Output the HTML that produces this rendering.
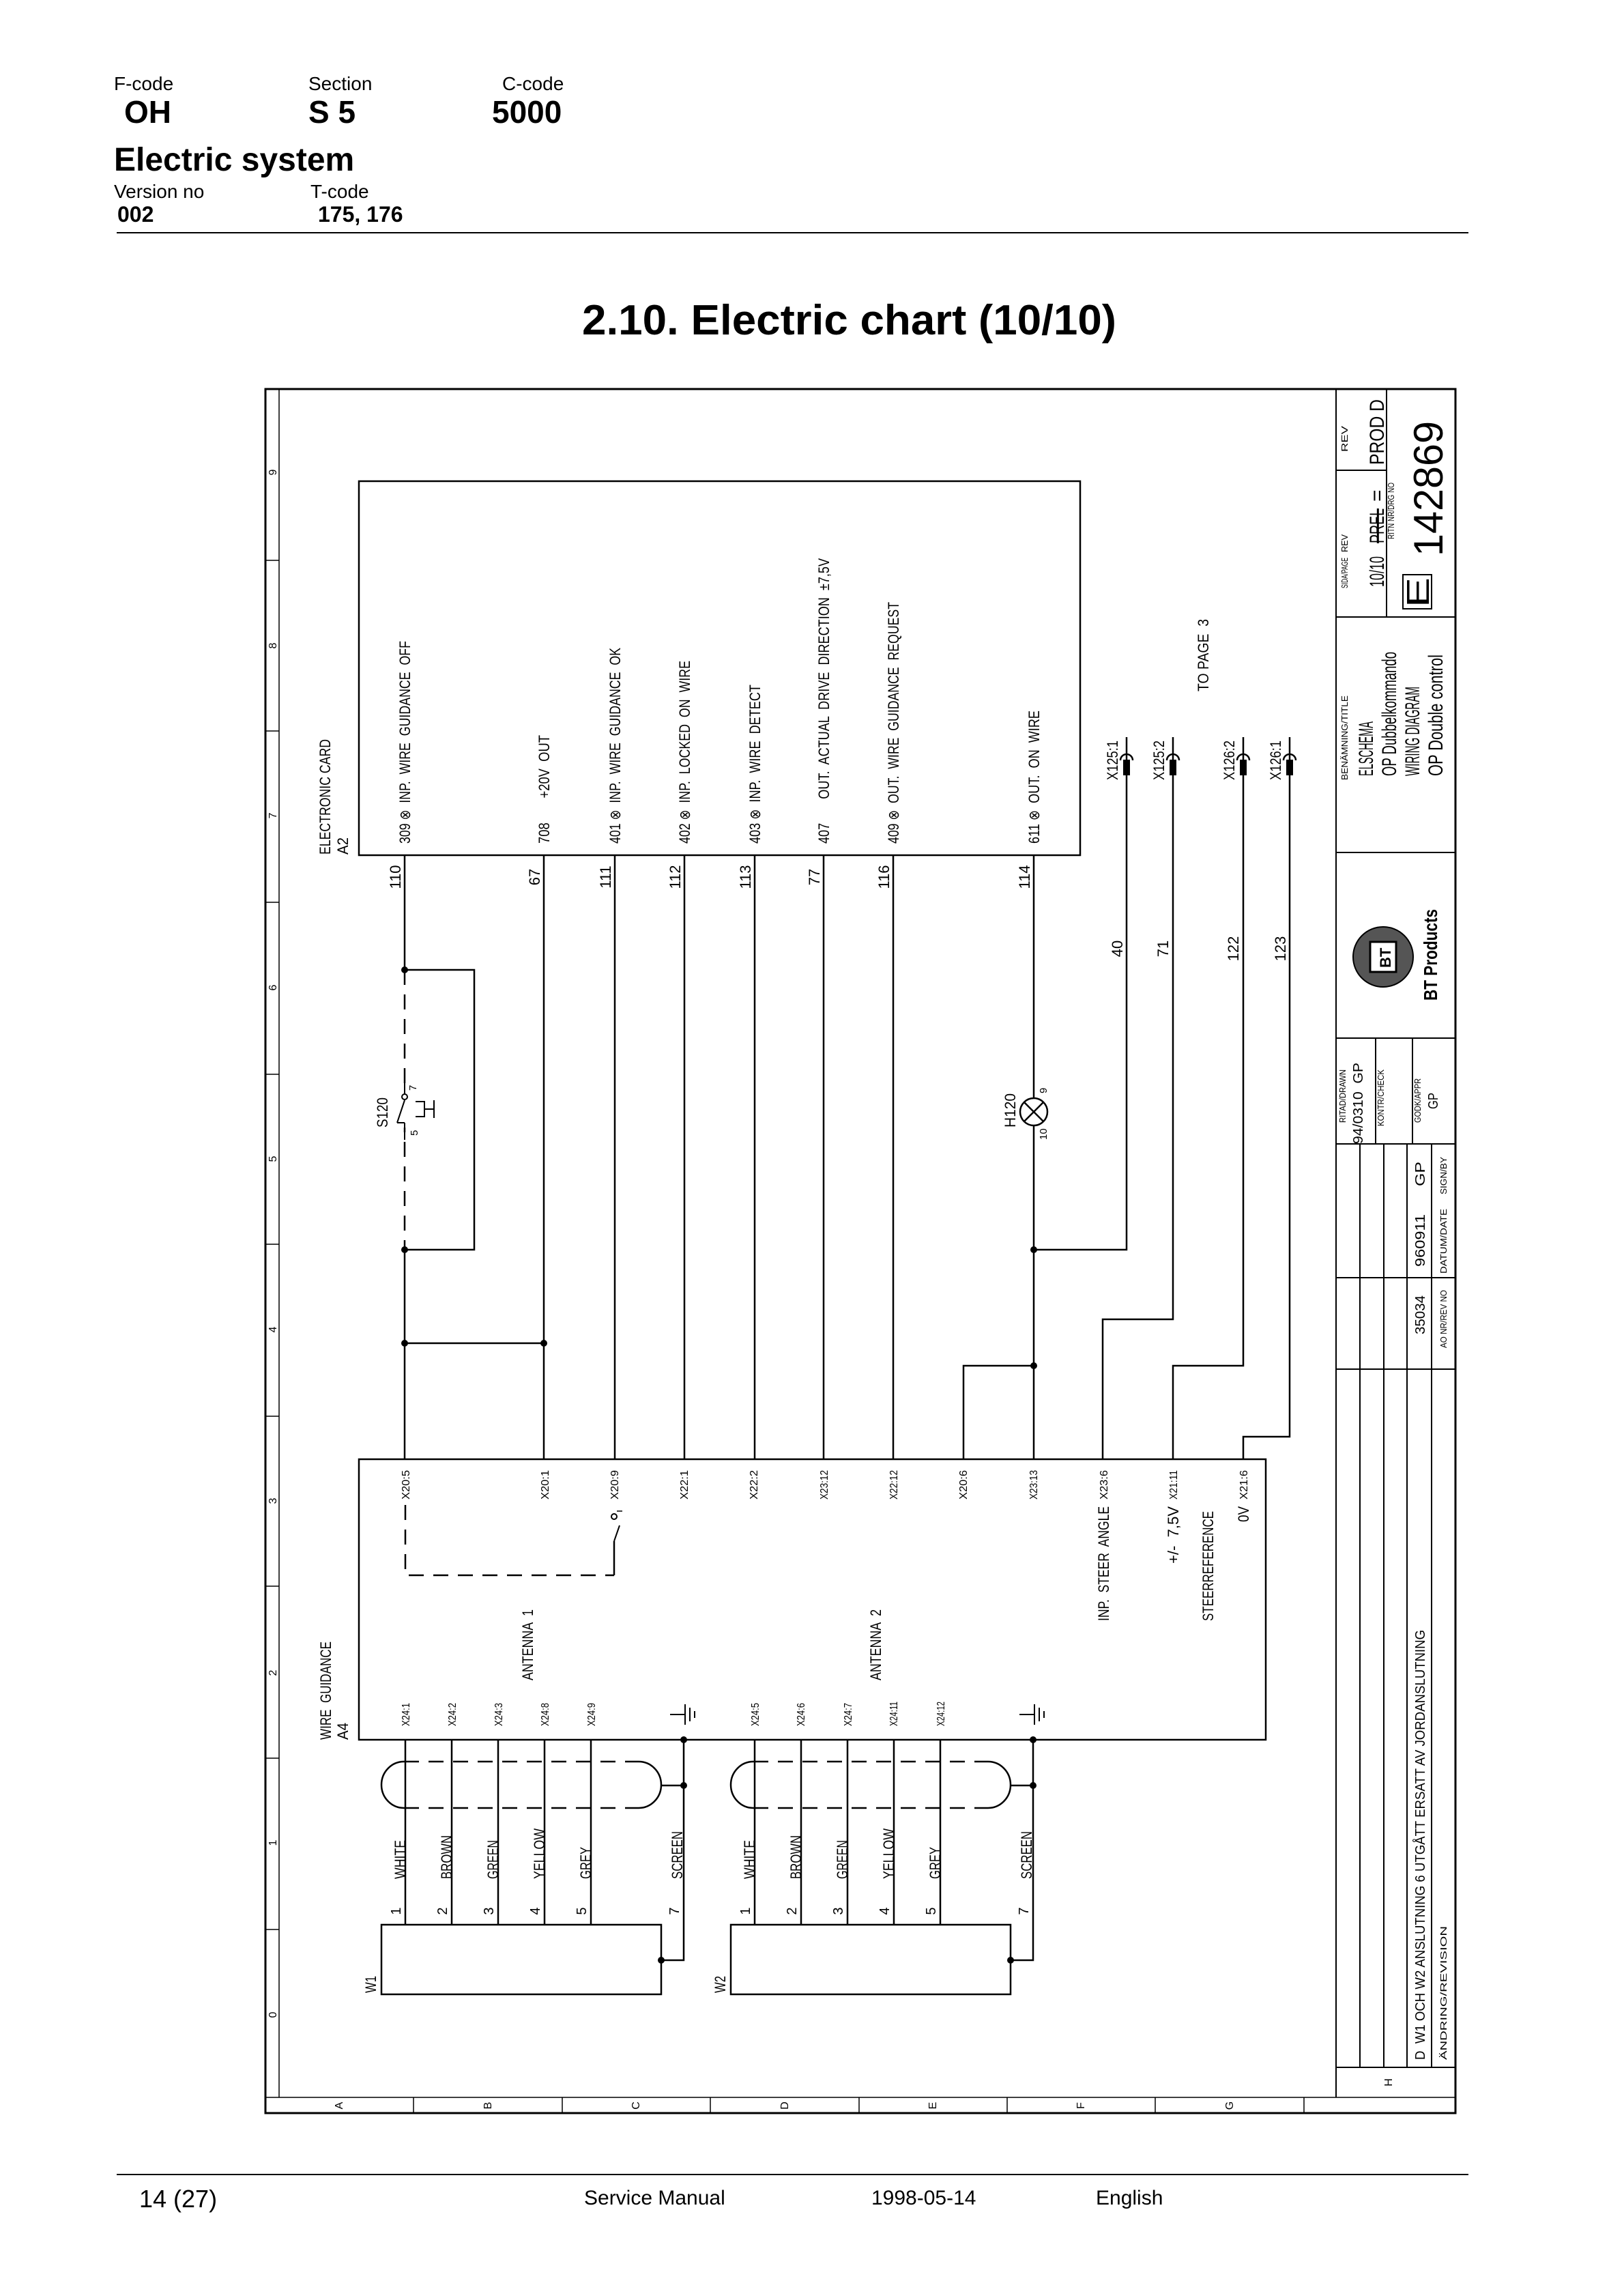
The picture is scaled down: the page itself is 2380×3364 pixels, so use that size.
<!DOCTYPE html>
<html><head><meta charset="utf-8"><style>
html,body{margin:0;padding:0;background:#fff}
svg{display:block}
text{font-family:"Liberation Sans",sans-serif;fill:#000;white-space:pre}
.w{stroke:#000;stroke-width:2.5;fill:none}
.d{stroke:#000;stroke-width:2.5;fill:none;stroke-dasharray:22 14}
.f{stroke:#000;stroke-width:3;fill:none}
.th{stroke:#000;stroke-width:1.5;fill:none}
</style></head><body>
<svg width="2380" height="3364" viewBox="0 0 2380 3364" xmlns="http://www.w3.org/2000/svg">
<!-- Header -->
<text x="167" y="132" font-size="28">F-code</text>
<text x="452" y="132" font-size="28">Section</text>
<text x="736" y="132" font-size="28">C-code</text>
<text x="182" y="180" font-size="46" font-weight="bold">OH</text>
<text x="452" y="180" font-size="46" font-weight="bold">S 5</text>
<text x="721" y="180" font-size="46" font-weight="bold">5000</text>
<text x="167" y="250" font-size="48" font-weight="bold">Electric system</text>
<text x="167" y="290" font-size="28">Version no</text>
<text x="455" y="290" font-size="28">T-code</text>
<text x="172" y="325" font-size="32" font-weight="bold">002</text>
<text x="466" y="325" font-size="32" font-weight="bold">175, 176</text>
<line x1="171" y1="341" x2="2152" y2="341" stroke="#000" stroke-width="2"/>
<text x="853" y="490" font-size="62" font-weight="bold" textLength="783" lengthAdjust="spacingAndGlyphs">2.10. Electric chart (10/10)</text>

<!-- Footer -->
<line x1="171" y1="3186" x2="2152" y2="3186" stroke="#000" stroke-width="2"/>
<text x="204" y="3234" font-size="36">14 (27)</text>
<text x="856" y="3230" font-size="30">Service Manual</text>
<text x="1277" y="3230" font-size="30">1998-05-14</text>
<text x="1606" y="3230" font-size="30">English</text>

<!-- Frame -->
<rect x="389" y="570" width="1744" height="2526" class="f"/>
<line x1="409" y1="570" x2="409" y2="3073" class="th"/>
<line x1="389" y1="3073" x2="2133" y2="3073" class="th"/>
<g class="th">
<line x1="389" y1="821" x2="409" y2="821"/><line x1="389" y1="1071" x2="409" y2="1071"/>
<line x1="389" y1="1322" x2="409" y2="1322"/><line x1="389" y1="1574" x2="409" y2="1574"/>
<line x1="389" y1="1823" x2="409" y2="1823"/><line x1="389" y1="2075" x2="409" y2="2075"/>
<line x1="389" y1="2324" x2="409" y2="2324"/><line x1="389" y1="2576" x2="409" y2="2576"/>
<line x1="389" y1="2827" x2="409" y2="2827"/>
<line x1="606" y1="3073" x2="606" y2="3096"/><line x1="824" y1="3073" x2="824" y2="3096"/>
<line x1="1041" y1="3073" x2="1041" y2="3096"/><line x1="1259" y1="3073" x2="1259" y2="3096"/>
<line x1="1476" y1="3073" x2="1476" y2="3096"/><line x1="1693" y1="3073" x2="1693" y2="3096"/>
<line x1="1911" y1="3073" x2="1911" y2="3096"/>
</g>
<g font-size="16" text-anchor="middle">
<text transform="translate(405,692) rotate(-90)">9</text>
<text transform="translate(405,946) rotate(-90)">8</text>
<text transform="translate(405,1195) rotate(-90)">7</text>
<text transform="translate(405,1447) rotate(-90)">6</text>
<text transform="translate(405,1698) rotate(-90)">5</text>
<text transform="translate(405,1948) rotate(-90)">4</text>
<text transform="translate(405,2199) rotate(-90)">3</text>
<text transform="translate(405,2451) rotate(-90)">2</text>
<text transform="translate(405,2700) rotate(-90)">1</text>
<text transform="translate(405,2952) rotate(-90)">0</text>
<text transform="translate(502,3085) rotate(-90)">A</text>
<text transform="translate(720,3085) rotate(-90)">B</text>
<text transform="translate(937,3085) rotate(-90)">C</text>
<text transform="translate(1155,3085) rotate(-90)">D</text>
<text transform="translate(1372,3085) rotate(-90)">E</text>
<text transform="translate(1589,3085) rotate(-90)">F</text>
<text transform="translate(1807,3085) rotate(-90)">G</text>
<text transform="translate(2040,3051) rotate(-90)">H</text>
</g>

<!-- Title block -->
<g class="th" style="stroke-width:2">
<line x1="1958" y1="570" x2="1958" y2="3073"/>
<line x1="2032" y1="570" x2="2032" y2="904"/>
<line x1="1958" y1="689" x2="2032" y2="689"/>
<line x1="1958" y1="904" x2="2133" y2="904"/>
<line x1="1958" y1="1249" x2="2133" y2="1249"/>
<line x1="1958" y1="1521" x2="2133" y2="1521"/>
<line x1="2016" y1="1521" x2="2016" y2="1676"/>
<line x1="2070" y1="1521" x2="2070" y2="1676"/>
<line x1="1958" y1="1676" x2="2133" y2="1676"/>
<line x1="1958" y1="1872" x2="2133" y2="1872"/>
<line x1="1958" y1="2006" x2="2133" y2="2006"/>
<line x1="1993" y1="1676" x2="1993" y2="3029"/>
<line x1="2028" y1="1676" x2="2028" y2="3029"/>
<line x1="2062" y1="1676" x2="2062" y2="3029"/>
<line x1="2098" y1="1676" x2="2098" y2="3029"/>
<line x1="1958" y1="3029" x2="2133" y2="3029"/>
<rect x="2056" y="842" width="42" height="50"/>
</g>
<g font-size="13">
<text transform="translate(1975,662) rotate(-90)" textLength="38" lengthAdjust="spacingAndGlyphs">REV</text>
<text transform="translate(1975,809) rotate(-90)" textLength="26" lengthAdjust="spacingAndGlyphs">REV</text>
<text transform="translate(1975,862) rotate(-90)" textLength="45" lengthAdjust="spacingAndGlyphs">SIDA/PAGE</text>
<text transform="translate(2043,790) rotate(-90)" textLength="83" lengthAdjust="spacingAndGlyphs">RITN NR/DRG NO</text>
<text transform="translate(1975,1143) rotate(-90)" textLength="124" lengthAdjust="spacingAndGlyphs">BENÄMNING/TITLE</text>
<text transform="translate(1972,1645) rotate(-90)" textLength="78" lengthAdjust="spacingAndGlyphs">RITAD/DRAWN</text>
<text transform="translate(2028,1650) rotate(-90)" textLength="83" lengthAdjust="spacingAndGlyphs">KONTR/CHECK</text>
<text transform="translate(2082,1645) rotate(-90)" textLength="65" lengthAdjust="spacingAndGlyphs">GODK/APPR</text>
<text transform="translate(2120,1750) rotate(-90)" textLength="55" lengthAdjust="spacingAndGlyphs">SIGN/BY</text>
<text transform="translate(2120,1866) rotate(-90)" textLength="95" lengthAdjust="spacingAndGlyphs">DATUM/DATE</text>
<text transform="translate(2120,1975) rotate(-90)" textLength="85" lengthAdjust="spacingAndGlyphs">AO NR/REV NO</text>
<text transform="translate(2120,3018) rotate(-90)" textLength="196" lengthAdjust="spacingAndGlyphs">ÄNDRING/REVISION</text>
</g>
<g font-size="30">
<text transform="translate(2028,681) rotate(-90)" textLength="96" lengthAdjust="spacingAndGlyphs">PROD D</text>
<text transform="translate(2028,860) rotate(-90)" textLength="45" lengthAdjust="spacingAndGlyphs">10/10</text>
<text transform="translate(2028,796) rotate(-90)" textLength="51" lengthAdjust="spacingAndGlyphs" text-decoration="line-through">PREL</text>
<text transform="translate(2028,735) rotate(-90)">=</text>
<text transform="translate(2012,1137) rotate(-90)" textLength="80" lengthAdjust="spacingAndGlyphs">ELSCHEMA</text>
<text transform="translate(2046,1137) rotate(-90)" textLength="182" lengthAdjust="spacingAndGlyphs">OP Dubbelkommando</text>
<text transform="translate(2080,1137) rotate(-90)" textLength="131" lengthAdjust="spacingAndGlyphs">WIRING DIAGRAM</text>
<text transform="translate(2114,1137) rotate(-90)" textLength="178" lengthAdjust="spacingAndGlyphs">OP Double control</text>
</g>
<text transform="translate(2114,815) rotate(-90)" font-size="60" textLength="198" lengthAdjust="spacingAndGlyphs">142869</text>
<text transform="translate(2094,890) rotate(-90)" font-size="46" textLength="44" lengthAdjust="spacingAndGlyphs">E</text>
<g font-size="20">
<text transform="translate(1997,1676) rotate(-90)" textLength="119" lengthAdjust="spacingAndGlyphs">94/0310  GP</text>
<text transform="translate(2107,1625) rotate(-90)" textLength="24" lengthAdjust="spacingAndGlyphs">GP</text>
<text transform="translate(2088,1738) rotate(-90)" textLength="36" lengthAdjust="spacingAndGlyphs">GP</text>
<text transform="translate(2088,1856) rotate(-90)" textLength="77" lengthAdjust="spacingAndGlyphs">960911</text>
<text transform="translate(2088,1955) rotate(-90)" textLength="57" lengthAdjust="spacingAndGlyphs">35034</text>
<text transform="translate(2088,3018) rotate(-90)" textLength="630" lengthAdjust="spacingAndGlyphs">D  W1 OCH W2 ANSLUTNING 6 UTGÅTT ERSATT AV JORDANSLUTNING</text>
</g>
<!-- logo -->
<circle cx="2027" cy="1402" r="44" fill="#555" stroke="#000" stroke-width="2"/>
<rect x="2008" y="1380" width="38" height="44" fill="#fff" stroke="#000" stroke-width="3"/>
<text transform="translate(2038,1418) rotate(-90)" font-size="22" font-weight="bold">BT</text>
<text transform="translate(2106,1466) rotate(-90)" font-size="28" font-weight="bold" textLength="134" lengthAdjust="spacingAndGlyphs">BT Products</text>

<!-- Electronic card -->
<rect x="526" y="705" width="1057" height="548" class="w"/>
<g font-size="22">
<text transform="translate(484,1252) rotate(-90)" textLength="169" lengthAdjust="spacingAndGlyphs">ELECTRONIC CARD</text>
<text transform="translate(510,1252) rotate(-90)" textLength="25" lengthAdjust="spacingAndGlyphs">A2</text>
<text transform="translate(601,1236) rotate(-90)" textLength="297" lengthAdjust="spacingAndGlyphs">309 ⊗  INP.  WIRE  GUIDANCE  OFF</text>
<text transform="translate(805,1236) rotate(-90)" textLength="159" lengthAdjust="spacingAndGlyphs">708       +20V  OUT</text>
<text transform="translate(909,1236) rotate(-90)" textLength="287" lengthAdjust="spacingAndGlyphs">401 ⊗  INP.  WIRE  GUIDANCE  OK</text>
<text transform="translate(1011,1236) rotate(-90)" textLength="268" lengthAdjust="spacingAndGlyphs">402 ⊗  INP.  LOCKED  ON  WIRE</text>
<text transform="translate(1114,1236) rotate(-90)" textLength="233" lengthAdjust="spacingAndGlyphs">403 ⊗  INP.  WIRE  DETECT</text>
<text transform="translate(1215,1236) rotate(-90)" textLength="418" lengthAdjust="spacingAndGlyphs">407       OUT.  ACTUAL  DRIVE  DIRECTION  ±7,5V</text>
<text transform="translate(1317,1236) rotate(-90)" textLength="354" lengthAdjust="spacingAndGlyphs">409 ⊗  OUT.  WIRE  GUIDANCE  REQUEST</text>
<text transform="translate(1523,1236) rotate(-90)" textLength="195" lengthAdjust="spacingAndGlyphs">611 ⊗  OUT.  ON  WIRE</text>
</g>
<g font-size="22" text-anchor="middle">
<text transform="translate(587,1285) rotate(-90)">110</text>
<text transform="translate(791,1285) rotate(-90)">67</text>
<text transform="translate(895,1285) rotate(-90)">111</text>
<text transform="translate(997,1285) rotate(-90)">112</text>
<text transform="translate(1100,1285) rotate(-90)">113</text>
<text transform="translate(1201,1285) rotate(-90)">77</text>
<text transform="translate(1303,1285) rotate(-90)">116</text>
<text transform="translate(1509,1285) rotate(-90)">114</text>
<text transform="translate(1645,1390) rotate(-90)">40</text>
<text transform="translate(1712,1390) rotate(-90)">71</text>
<text transform="translate(1815,1390) rotate(-90)">122</text>
<text transform="translate(1884,1390) rotate(-90)">123</text>
</g>

<!-- Wires between -->
<g class="w">
<line x1="593" y1="1253" x2="593" y2="1421"/>
<line x1="593" y1="1831" x2="593" y2="2138"/>
<polyline points="593,1421 695,1421 695,1831 593,1831"/>
<line x1="593" y1="1968" x2="797" y2="1968"/>
<line x1="797" y1="1253" x2="797" y2="2138"/>
<line x1="901" y1="1253" x2="901" y2="2138"/>
<line x1="1003" y1="1253" x2="1003" y2="2138"/>
<line x1="1106" y1="1253" x2="1106" y2="2138"/>
<line x1="1207" y1="1253" x2="1207" y2="2138"/>
<line x1="1309" y1="1253" x2="1309" y2="2138"/>
<line x1="1515" y1="1253" x2="1515" y2="1609"/>
<line x1="1515" y1="1649" x2="1515" y2="2138"/>
<polyline points="1651,1080 1651,1831 1515,1831"/>
<polyline points="1719,1080 1719,1933 1616,1933 1616,2138"/>
<polyline points="1822,1080 1822,2001 1719,2001 1719,2138"/>
<polyline points="1890,1080 1890,2105 1822,2105 1822,2138"/>
<polyline points="1412,2138 1412,2001 1515,2001"/>
<circle cx="1515" cy="1629" r="20"/>
<line x1="1501" y1="1615" x2="1529" y2="1643"/><line x1="1529" y1="1615" x2="1501" y2="1643"/>
</g>
<line x1="593" y1="1421" x2="593" y2="1831" class="d"/>
<g fill="#000">
<circle cx="593" cy="1421" r="5"/><circle cx="593" cy="1831" r="5"/>
<circle cx="593" cy="1968" r="5"/><circle cx="797" cy="1968" r="5"/>
<circle cx="1515" cy="1831" r="5"/><circle cx="1515" cy="2001" r="5"/>
</g>
<!-- S120 switch -->
<rect x="580" y="1598" width="26" height="54" fill="#fff"/>
<g class="th" style="stroke-width:2">
<line x1="593" y1="1580" x2="593" y2="1603"/>
<circle cx="593" cy="1607" r="4" fill="#fff"/>
<line x1="582" y1="1645" x2="593" y2="1612"/>
<line x1="582" y1="1645" x2="593" y2="1645"/>
<line x1="593" y1="1645" x2="593" y2="1670"/>
<polyline points="609,1614 622,1614 622,1636 609,1636"/>
<polyline points="636,1612 636,1638"/>
<line x1="622" y1="1625" x2="636" y2="1625"/>
</g>
<text transform="translate(568,1652) rotate(-90)" font-size="22" textLength="44" lengthAdjust="spacingAndGlyphs">S120</text>
<text transform="translate(610,1598) rotate(-90)" font-size="15">7</text>
<text transform="translate(612,1664) rotate(-90)" font-size="15">5</text>
<text transform="translate(1488,1652) rotate(-90)" font-size="22" textLength="50" lengthAdjust="spacingAndGlyphs">H120</text>
<text transform="translate(1534,1602) rotate(-90)" font-size="15">9</text>
<text transform="translate(1534,1670) rotate(-90)" font-size="15">10</text>
<!-- connectors -->
<g class="w">
<path d="M1642,1114 A9,9 0 0 1 1660,1114"/>
<path d="M1710,1114 A9,9 0 0 1 1728,1114"/>
<path d="M1813,1114 A9,9 0 0 1 1831,1114"/>
<path d="M1881,1114 A9,9 0 0 1 1899,1114"/>
</g>
<g fill="#000">
<rect x="1646" y="1113" width="10" height="23"/><rect x="1714" y="1113" width="10" height="23"/>
<rect x="1817" y="1113" width="10" height="23"/><rect x="1885" y="1113" width="10" height="23"/>
</g>
<g font-size="22">
<text transform="translate(1638,1143) rotate(-90)" textLength="58" lengthAdjust="spacingAndGlyphs">X125:1</text>
<text transform="translate(1706,1143) rotate(-90)" textLength="58" lengthAdjust="spacingAndGlyphs">X125:2</text>
<text transform="translate(1809,1143) rotate(-90)" textLength="58" lengthAdjust="spacingAndGlyphs">X126:2</text>
<text transform="translate(1877,1143) rotate(-90)" textLength="58" lengthAdjust="spacingAndGlyphs">X126:1</text>
<text transform="translate(1771,1013) rotate(-90)" textLength="106" lengthAdjust="spacingAndGlyphs">TO PAGE  3</text>
</g>

<!-- A4 wire guidance -->
<rect x="526" y="2138" width="1329" height="411" class="w"/>
<g font-size="16">
<text transform="translate(600,2197) rotate(-90)" textLength="43" lengthAdjust="spacingAndGlyphs">X20:5</text>
<text transform="translate(804,2197) rotate(-90)" textLength="43" lengthAdjust="spacingAndGlyphs">X20:1</text>
<text transform="translate(906,2197) rotate(-90)" textLength="43" lengthAdjust="spacingAndGlyphs">X20:9</text>
<text transform="translate(1008,2197) rotate(-90)" textLength="43" lengthAdjust="spacingAndGlyphs">X22:1</text>
<text transform="translate(1110,2197) rotate(-90)" textLength="43" lengthAdjust="spacingAndGlyphs">X22:2</text>
<text transform="translate(1213,2197) rotate(-90)" textLength="43" lengthAdjust="spacingAndGlyphs">X23:12</text>
<text transform="translate(1315,2197) rotate(-90)" textLength="43" lengthAdjust="spacingAndGlyphs">X22:12</text>
<text transform="translate(1417,2197) rotate(-90)" textLength="43" lengthAdjust="spacingAndGlyphs">X20:6</text>
<text transform="translate(1520,2197) rotate(-90)" textLength="43" lengthAdjust="spacingAndGlyphs">X23:13</text>
<text transform="translate(1623,2197) rotate(-90)" textLength="43" lengthAdjust="spacingAndGlyphs">X23:6</text>
<text transform="translate(1725,2197) rotate(-90)" textLength="43" lengthAdjust="spacingAndGlyphs">X21:11</text>
<text transform="translate(1828,2197) rotate(-90)" textLength="43" lengthAdjust="spacingAndGlyphs">X21:6</text>
<text transform="translate(600,2529) rotate(-90)" textLength="34" lengthAdjust="spacingAndGlyphs">X24:1</text>
<text transform="translate(668,2529) rotate(-90)" textLength="34" lengthAdjust="spacingAndGlyphs">X24:2</text>
<text transform="translate(736,2529) rotate(-90)" textLength="34" lengthAdjust="spacingAndGlyphs">X24:3</text>
<text transform="translate(804,2529) rotate(-90)" textLength="34" lengthAdjust="spacingAndGlyphs">X24:8</text>
<text transform="translate(872,2529) rotate(-90)" textLength="34" lengthAdjust="spacingAndGlyphs">X24:9</text>
<text transform="translate(1112,2529) rotate(-90)" textLength="34" lengthAdjust="spacingAndGlyphs">X24:5</text>
<text transform="translate(1179,2529) rotate(-90)" textLength="34" lengthAdjust="spacingAndGlyphs">X24:6</text>
<text transform="translate(1248,2529) rotate(-90)" textLength="34" lengthAdjust="spacingAndGlyphs">X24:7</text>
<text transform="translate(1315,2529) rotate(-90)" textLength="36" lengthAdjust="spacingAndGlyphs">X24:11</text>
<text transform="translate(1384,2529) rotate(-90)" textLength="36" lengthAdjust="spacingAndGlyphs">X24:12</text>
</g>
<g font-size="22">
<text transform="translate(1625,2375) rotate(-90)" textLength="168" lengthAdjust="spacingAndGlyphs">INP.  STEER  ANGLE</text>
<text transform="translate(1727,2291) rotate(-90)" textLength="84" lengthAdjust="spacingAndGlyphs">+/-  7,5V</text>
<text transform="translate(1830,2230) rotate(-90)" textLength="23" lengthAdjust="spacingAndGlyphs">0V</text>
<text transform="translate(1778,2375) rotate(-90)" textLength="161" lengthAdjust="spacingAndGlyphs">STEERREFERENCE</text>
<text transform="translate(781,2462) rotate(-90)" textLength="104" lengthAdjust="spacingAndGlyphs">ANTENNA  1</text>
<text transform="translate(1291,2462) rotate(-90)" textLength="104" lengthAdjust="spacingAndGlyphs">ANTENNA  2</text>
<text transform="translate(485,2549) rotate(-90)" textLength="144" lengthAdjust="spacingAndGlyphs">WIRE  GUIDANCE</text>
<text transform="translate(510,2549) rotate(-90)" textLength="25" lengthAdjust="spacingAndGlyphs">A4</text>
</g>
<!-- internal dashed + switch -->
<polyline points="594,2205 594,2308 900,2308" class="d"/>
<line x1="900" y1="2308" x2="900" y2="2258" class="w"/>
<line x1="900" y1="2258" x2="908" y2="2235" class="th" style="stroke-width:2"/>
<circle cx="900" cy="2222" r="4" fill="#fff" stroke="#000" stroke-width="2"/>
<line x1="904" y1="2214" x2="912" y2="2214" class="th"/>
<!-- ground symbols -->
<g class="th" style="stroke-width:2">
<line x1="982" y1="2512" x2="1004" y2="2512"/><line x1="1004" y1="2497" x2="1004" y2="2527"/>
<line x1="1011" y1="2502" x2="1011" y2="2522"/><line x1="1018" y1="2507" x2="1018" y2="2517"/>
<line x1="1494" y1="2512" x2="1516" y2="2512"/><line x1="1516" y1="2497" x2="1516" y2="2527"/>
<line x1="1523" y1="2502" x2="1523" y2="2522"/><line x1="1530" y1="2507" x2="1530" y2="2517"/>
</g>

<!-- Antenna groups -->
<g id="ant">
<g class="w">
<line x1="594" y1="2549" x2="594" y2="2820"/>
<line x1="662" y1="2549" x2="662" y2="2820"/>
<line x1="730" y1="2549" x2="730" y2="2820"/>
<line x1="798" y1="2549" x2="798" y2="2820"/>
<line x1="866" y1="2549" x2="866" y2="2820"/>
<polyline points="1002,2549 1002,2872 969,2872"/>
<line x1="969" y1="2616" x2="1002" y2="2616"/>
<rect x="559" y="2820" width="410" height="102"/>
<path d="M592,2581 A33,34 0 0 0 592,2649"/>
<path d="M936,2581 A33,34 0 0 1 936,2649"/>
</g>
<line x1="592" y1="2581" x2="936" y2="2581" class="d"/>
<line x1="592" y1="2649" x2="936" y2="2649" class="d"/>
<g fill="#000"><circle cx="1002" cy="2549" r="5"/><circle cx="1002" cy="2616" r="5"/><circle cx="969" cy="2872" r="5"/></g>
<g font-size="22">
<text transform="translate(594,2753) rotate(-90)" textLength="57" lengthAdjust="spacingAndGlyphs">WHITE</text>
<text transform="translate(662,2753) rotate(-90)" textLength="64" lengthAdjust="spacingAndGlyphs">BROWN</text>
<text transform="translate(730,2753) rotate(-90)" textLength="57" lengthAdjust="spacingAndGlyphs">GREEN</text>
<text transform="translate(798,2753) rotate(-90)" textLength="74" lengthAdjust="spacingAndGlyphs">YELLOW</text>
<text transform="translate(866,2753) rotate(-90)" textLength="47" lengthAdjust="spacingAndGlyphs">GREY</text>
<text transform="translate(1000,2753) rotate(-90)" textLength="70" lengthAdjust="spacingAndGlyphs">SCREEN</text>
</g>
<g font-size="20" text-anchor="middle">
<text transform="translate(587,2800) rotate(-90)">1</text>
<text transform="translate(655,2800) rotate(-90)">2</text>
<text transform="translate(723,2800) rotate(-90)">3</text>
<text transform="translate(791,2800) rotate(-90)">4</text>
<text transform="translate(859,2800) rotate(-90)">5</text>
<text transform="translate(995,2800) rotate(-90)">7</text>
</g>
</g>
<use href="#ant" x="512" y="0"/>
<text transform="translate(551,2920) rotate(-90)" font-size="22" textLength="25" lengthAdjust="spacingAndGlyphs">W1</text>
<text transform="translate(1063,2920) rotate(-90)" font-size="22" textLength="25" lengthAdjust="spacingAndGlyphs">W2</text>
</svg>
</body></html>
